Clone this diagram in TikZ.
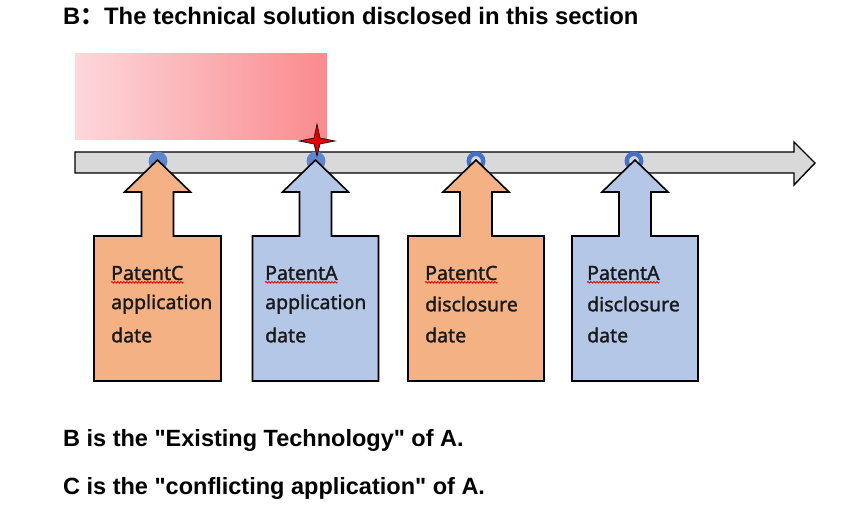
\documentclass[tikz,border=0pt]{standalone}
\usepackage{fontspec}
\setmainfont{Liberation Sans}
\newfontfamily\boxfont[FakeBold=1.4]{Noto Sans}
\newfontfamily\cjk{Noto Sans CJK SC}
\usetikzlibrary{decorations.pathmorphing}
\definecolor{orangefill}{HTML}{F4B183}
\definecolor{bluefill}{HTML}{B4C7E7}
\definecolor{barfill}{HTML}{D9D9D9}
\definecolor{ringblue}{HTML}{4472C4}
\definecolor{pinkL}{HTML}{FDD8DB}
\definecolor{pinkR}{HTML}{FA8A8E}
\tikzset{
  shapeline/.style={draw=black, line width=1.6pt, line join=miter},
  ring/.style={draw=ringblue, line width=4.5pt},
  boxtext/.style={font=\boxfont\fontsize{19.5}{23}\selectfont, anchor=west, inner sep=0pt, text=black!90},
  bigtext/.style={font=\bfseries\fontsize{23.8}{28}\selectfont, anchor=west, inner sep=0pt},
  stmt/.style={bigtext, font=\bfseries\fontsize{23.5}{28}\selectfont},
  wavy/.style={draw=red!85!black, line width=0.8pt, decorate, decoration={snake, amplitude=0.8pt, segment length=3pt}}
}
\newcommand{\uparrowbox}[4]{% cx, half width, fill, name
  \path[shapeline, fill=#3] (#1-#2,381) -- (#1-#2,236) -- (#1-16,236) -- (#1-16,192)
    -- (#1-33,192) -- (#1,160) -- (#1+33,192) -- (#1+16,192) -- (#1+16,236)
    -- (#1+#2,236) -- (#1+#2,381) -- cycle;
  \coordinate (#4) at (#1,308);
}
\begin{document}
\begin{tikzpicture}[x=1pt,y=-1pt]
\useasboundingbox (0,0) rectangle (849,532);
% title
\node[bigtext] (title) at (63,16) {B{\cjk ：}The technical solution disclosed in this section};
% pink gradient box
\shade[left color=pinkL, right color=pinkR] (75,54) rectangle (327,140);
\coordinate (pinkbox) at (201,97);
% timeline arrow
\path[shapeline, line width=1.4pt, fill=barfill] (75,152) -- (794,152) -- (794,142) -- (815,163)
  -- (794,185) -- (794,173) -- (75,173) -- cycle;
\coordinate (timeline) at (440,163);
% rings
\fill[ringblue!85] (158,161) circle (9.5);
\fill[ringblue!85] (316,161) circle (9.5);
\draw[ring] (476,161) circle (7.2);
\draw[ring] (634,161) circle (7.2);
% arrows with boxes
\uparrowbox{157.5}{63.5}{orangefill}{b1}
\uparrowbox{315.5}{63}{bluefill}{b2}
\uparrowbox{476}{68}{orangefill}{b3}
\uparrowbox{635}{63}{bluefill}{b4}
% star
\path[draw=black, line width=0.6pt, fill=red!90!black] (317,124) -- (320,138) -- (335,141) -- (320,144)
  -- (317,156) -- (314,144) -- (299,141) -- (314,138) -- cycle;
\coordinate (star) at (317,141);
% texts
\node[boxtext] (t1a) at (111,273) {PatentC};
\node[boxtext] (t1b) at (111,304) {application};
\node[boxtext] (t1c) at (111,335) {date};
\node[boxtext] (t2a) at (265,273) {PatentA};
\node[boxtext] (t2b) at (265,304) {application};
\node[boxtext] (t2c) at (265,335) {date};
\node[boxtext] (t3a) at (425,273) {PatentC};
\node[boxtext] (t3b) at (425,304) {disclosure};
\node[boxtext] (t3c) at (425,335) {date};
\node[boxtext] (t4a) at (587,273) {PatentA};
\node[boxtext] (t4b) at (587,304) {disclosure};
\node[boxtext] (t4c) at (587,335) {date};
\foreach \n in {t1a,t2a,t3a,t4a}{
  \draw[wavy] ([yshift=-2pt]\n.south west) -- ([yshift=-2pt]\n.south east);
}
% bottom statements
\node[stmt] (s1) at (63,440) {B is the \textquotedbl Existing Technology\textquotedbl{} of A.};
\node[stmt] (s2) at (63,488) {C is the \textquotedbl conflicting application\textquotedbl{} of A.};
\end{tikzpicture}
\end{document}
